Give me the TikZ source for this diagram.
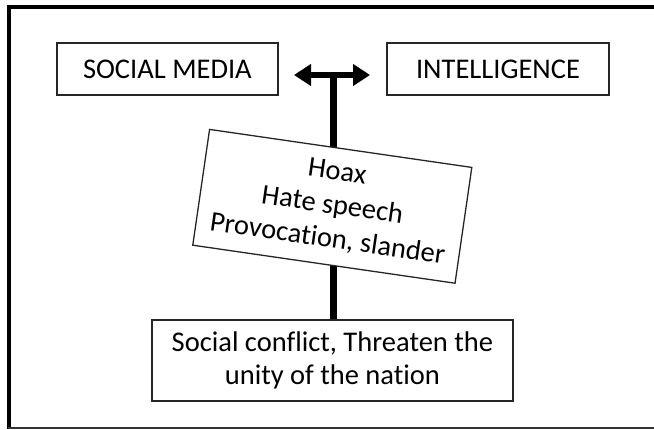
\documentclass[tikz,border=0pt]{standalone}
\usepackage{fontspec}
\setmainfont{Carlito}[Ligatures={NoCommon}]
\usetikzlibrary{arrows.meta}
\begin{document}
\begin{tikzpicture}[x=1pt,y=-1pt,
  box/.style={draw=black!85,line width=1.3pt,fill=white,align=center,inner sep=0pt,
    font=\fontsize{28.5}{33}\selectfont},
  frameline/.style={line width=4pt,black},
  link/.style={line width=7pt,black},
  >={Triangle[length=17pt,width=21pt]}]
  \useasboundingbox (0,0) rectangle (654,429);
  % frame: thick top and left, thin bottom
  \draw[frameline] (9,7) -- (654,7);
  \draw[frameline] (9,5) -- (9,429);
  \draw[line width=1.5pt,black!80] (8,428) -- (654,428);
  % top boxes
  \node[box,minimum width=221pt,minimum height=52pt] (media) at (167.4,69) {SOCIAL MEDIA};
  \node[box,minimum width=222pt,minimum height=52pt] (intel) at (498,69) {INTELLIGENCE};
  % bottom box
  \node[box,minimum width=361pt,minimum height=81pt] (conflict) at (332.4,360.5)
    {Social conflict, Threaten the\\unity of the nation};
  % double arrow with stem
  \coordinate (hub) at (333.5,75);
  \coordinate (hubL) at (294,75);
  \coordinate (hubR) at (370,75);
  \draw[link] (hub) -- (hub |- conflict.north);
  \draw[line width=5.5pt,<->] (hubL) -- (hubR);
  % tilted box of messages
  \node[box,rotate=-8.25,minimum width=265pt,minimum height=117pt,
    font=\fontsize{28.5}{34}\selectfont] (msg) at (332.3,206.3)
    {Hoax\\Hate speech\\Provocation, slander};
\end{tikzpicture}
\end{document}
